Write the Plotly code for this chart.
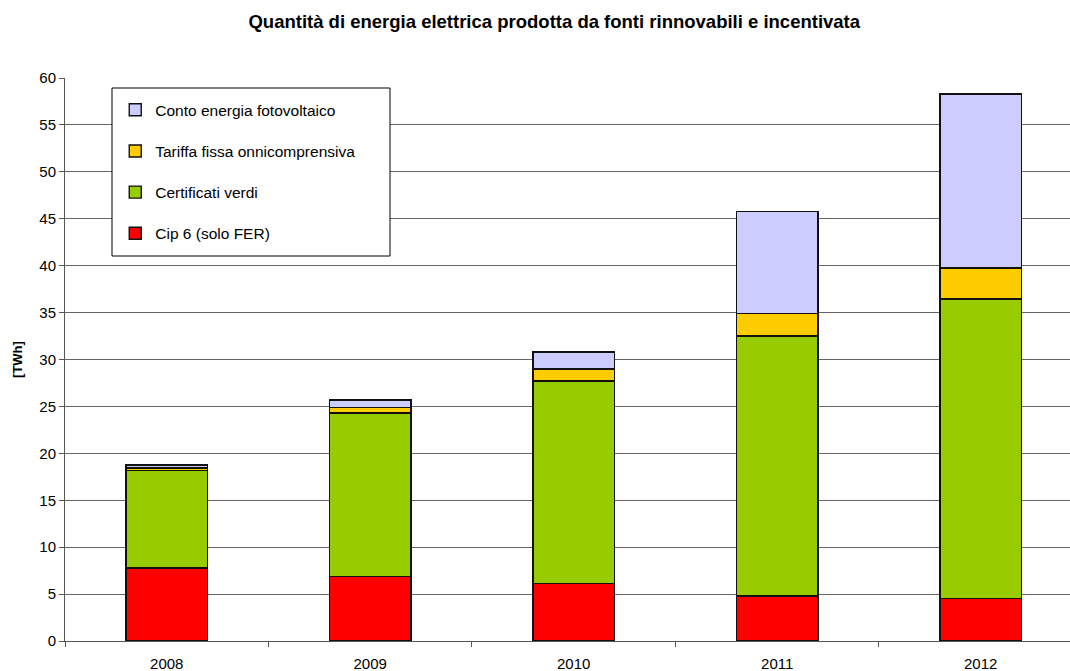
import plotly.graph_objects as go

years = ["2008", "2009", "2010", "2011", "2012"]
cip6 = [7.8, 6.9, 6.1, 4.8, 4.5]
certificati_verdi = [10.4, 17.4, 21.6, 27.7, 31.95]
tariffa_fissa = [0.25, 0.6, 1.3, 2.4, 3.3]
conto_energia = [0.3, 0.8, 1.8, 10.9, 18.55]

series = [
    ("Cip 6 (solo FER)", cip6, "#FF0000"),
    ("Certificati verdi", certificati_verdi, "#99CC00"),
    ("Tariffa fissa onnicomprensiva", tariffa_fissa, "#FFCC00"),
    ("Conto energia fotovoltaico", conto_energia, "#CCCCFF"),
]

font = "Liberation Sans, Arial, sans-serif"

fig = go.Figure()
for i, (name, vals, color) in enumerate(series):
    fig.add_trace(go.Bar(
        x=years, y=vals, name=name, legendgroup=name,
        legendrank=len(series) - i,
        marker=dict(color=color, line=dict(color="#111111", width=1.4)),
        width=0.4,
    ))

fig.update_layout(
    width=1070, height=671,
    margin=dict(l=65, r=0, t=78, b=30),
    barmode="stack",
    plot_bgcolor="white", paper_bgcolor="white",
    font=dict(family=font, size=15, color="#000000"),
    title=dict(
        text="<b>Quantità di energia elettrica prodotta da fonti rinnovabili e incentivata</b>",
        x=0.518, xanchor="center", y=0.968, yanchor="middle",
        font=dict(family=font, size=18.5, color="#000000"),
    ),
    showlegend=True,
    legend=dict(
        traceorder="grouped",
        tracegroupgap=18,
        x=0.05, xanchor="left", y=0.973, yanchor="top",
        bgcolor="rgba(0,0,0,0)", borderwidth=0,
        font=dict(family=font, size=15.5, color="#000000"),
    ),
    shapes=[dict(
        type="rect", xref="paper", yref="paper",
        x0=(112 - 65) / 1005, x1=(390 - 65) / 1005,
        y0=(641 - 256) / 563, y1=(641 - 88) / 563,
        line=dict(color="#000000", width=1), fillcolor="white", layer="above",
    )],
)

fig.update_xaxes(
    range=[-0.5, 4.439],
    showline=True, linecolor="#555555", linewidth=1,
    ticks="outside", tickson="boundaries", ticklen=5, tickcolor="#555555",
    ticklabelstandoff=9,
    showgrid=False,
    tickfont=dict(family=font, size=15, color="#000000"),
)
fig.update_yaxes(
    range=[0, 60], dtick=5,
    showline=True, linecolor="#555555", linewidth=1,
    ticks="outside", ticklen=5, tickcolor="#555555",
    showgrid=True, gridcolor="#666666", gridwidth=1,
    zeroline=False,
    tickfont=dict(family=font, size=15, color="#000000"),
    title=dict(text="<b>[TWh]</b>", font=dict(family=font, size=13, color="#000000"), standoff=13),
)

fig.write_html("out.html")
